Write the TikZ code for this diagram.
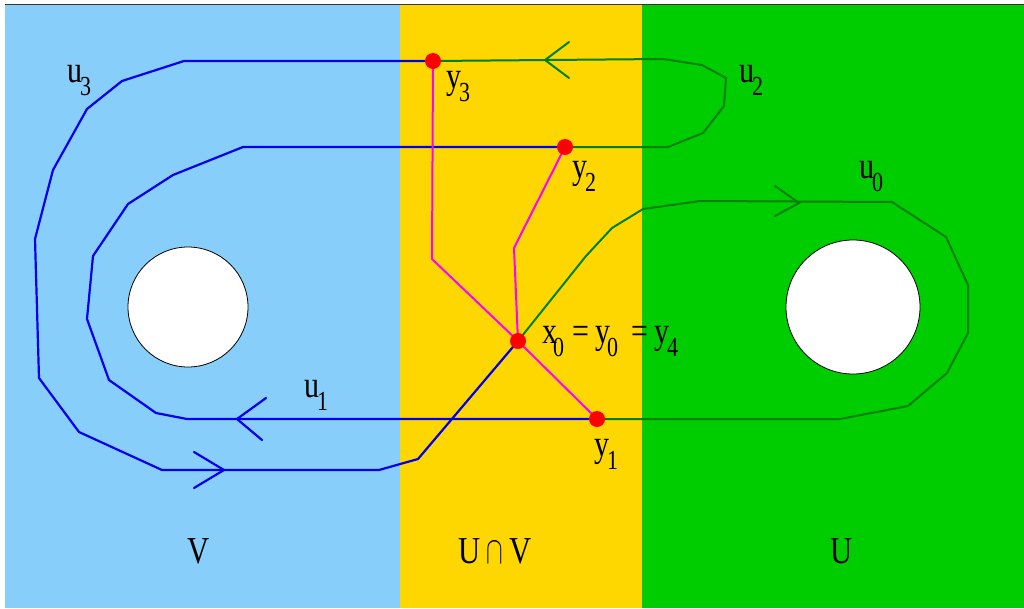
\documentclass[tikz,border=0pt]{standalone}
\usepackage{fontspec}
\setmainfont{Liberation Serif}
\usepackage{graphicx}
\definecolor{vblue}{RGB}{135,206,250}
\definecolor{uvyellow}{RGB}{255,215,0}
\definecolor{ugreen}{RGB}{0,205,0}
\definecolor{lgreen}{RGB}{0,128,0}
\definecolor{lblue}{RGB}{0,0,240}
\definecolor{lmag}{RGB}{255,0,255}
\definecolor{dotred}{RGB}{255,0,0}
\newcommand{\bigf}{\fontsize{30}{30}\selectfont}
\newcommand{\subf}{\fontsize{22}{22}\selectfont}
\newcommand{\vs}[1]{\scalebox{1}[1.25]{#1}}
\newcommand{\sbs}[1]{\raisebox{-13pt}{\vs{\subf #1}}}
\newcommand{\mylab}[2]{\vs{#1}\kern-2pt\sbs{#2}}
\begin{document}
\begin{tikzpicture}[x=1pt,y=-1pt,
  bl/.style={draw=lblue, line width=2.2pt, line join=miter},
  gr/.style={draw=lgreen, line width=2pt, line join=miter},
  mg/.style={draw=lmag, line width=2pt},
  dot/.style={circle, fill=dotred, inner sep=0pt, minimum size=16pt},
  hole/.style={circle, draw=black, fill=white, line width=0.8pt, inner sep=0pt},
  lab/.style={anchor=base west, inner sep=0pt, font=\bigf},
  reg/.style={anchor=base, inner sep=0pt, font=\fontsize{34}{34}\selectfont}]
\useasboundingbox (0,0) rectangle (1024,608);
% regions
\fill[white] (0,0) rectangle (1024,608);
\fill[vblue] (5,5) rectangle (400,608);
\fill[uvyellow] (400,5) rectangle (642,608);
\fill[ugreen] (642,5) rectangle (1024,608);
\draw[line width=1pt, black!80] (5,4.5) -- (1024,4.5);
% holes
\node[hole, minimum size=120pt] (hv) at (188,307) {};
\node[hole, minimum size=134pt] (hu) at (853,307) {};
% base points
\coordinate (y3) at (433,61);
\coordinate (y2) at (565,147);
\coordinate (x0) at (518,341);
\coordinate (y1) at (597,419);
% blue loops (u3 and u1)
\draw[bl] (y3) -- (184,61) -- (122,81) -- (87,109) -- (53,170) -- (35,239)
  -- (39,378) -- (79,432) -- (162,470) -- (379,470) -- (418,459) -- (x0);
\draw[bl] (y2) -- (243,147) -- (173,175) -- (128,204) -- (93,256) -- (87,319)
  -- (109,380) -- (156,413) -- (187,419) -- (y1);
\coordinate (a1) at (224,470);
\draw[bl, line cap=round] (a1) ++(-30,-18) -- (a1) -- ++(-30,18);
\coordinate (a2) at (237,419);
\draw[bl, line cap=round] (a2) ++(29,-21) -- (a2) -- ++(25,21);
% green loops (u2 and u0)
\draw[gr] (y3) -- (663,59) -- (702,65) -- (726,78) -- (724,106) -- (703,133)
  -- (668,147) -- (y2);
\draw[gr] (x0) -- (586,256) -- (612,228) -- (643,209) -- (700,201) -- (892,202)
  -- (946,237) -- (968,285) -- (968,333) -- (947,373) -- (908,406) -- (840,419)
  -- (y1);
\coordinate (a3) at (545,60);
\draw[gr, line cap=round] (a3) ++(24,-18) -- (a3) -- ++(24,18);
\coordinate (a4) at (799,203);
\draw[gr, line cap=round] (a4) ++(-24,-17) -- (a4) -- ++(-24,13);
% magenta paths
\draw[mg] (x0) -- (y1);
\draw[mg] (x0) -- (432,259) -- (y3);
\draw[mg] (x0) -- (514,248) -- (y2);
% dots
\node[dot] (Y3) at (y3) {};
\node[dot] (Y2) at (y2) {};
\node[dot] (X0) at (x0) {};
\node[dot] (Y1) at (y1) {};
% labels
\node[lab] (lu3) at (67,82) {\mylab{u}{3}};
\node[lab] (lu2) at (739,82) {\mylab{u}{2}};
\node[lab] (lu0) at (859,178) {\mylab{u}{0}};
\node[lab] (lu1) at (304,397) {\mylab{u}{1}};
\node[lab] (ly3) at (446,88) {\mylab{y}{3}};
\node[lab] (ly2) at (572,178) {\mylab{y}{2}};
\node[lab] (ly1) at (594,456) {\mylab{y}{1}};
\node[lab] (lx0) at (542,343) {\vs{x}\kern-4pt\sbs{0}\kern8pt\vs{=}\kern6pt\vs{y}\kern-3pt\sbs{0}\kern13pt\vs{=}\kern6pt\vs{y}\kern-2pt\sbs{4}};
\node[reg] (lV) at (199,563) {\scalebox{0.9}[1.12]{V}};
\node[reg] (lUV) at (495,563) {\scalebox{0.9}[1.12]{U}\kern6pt\scalebox{1.0}[1.55]{$\cap$}\kern6pt\scalebox{0.9}[1.12]{V}};
\node[reg] (lU) at (842,563) {\scalebox{0.9}[1.12]{U}};
\end{tikzpicture}
\end{document}
